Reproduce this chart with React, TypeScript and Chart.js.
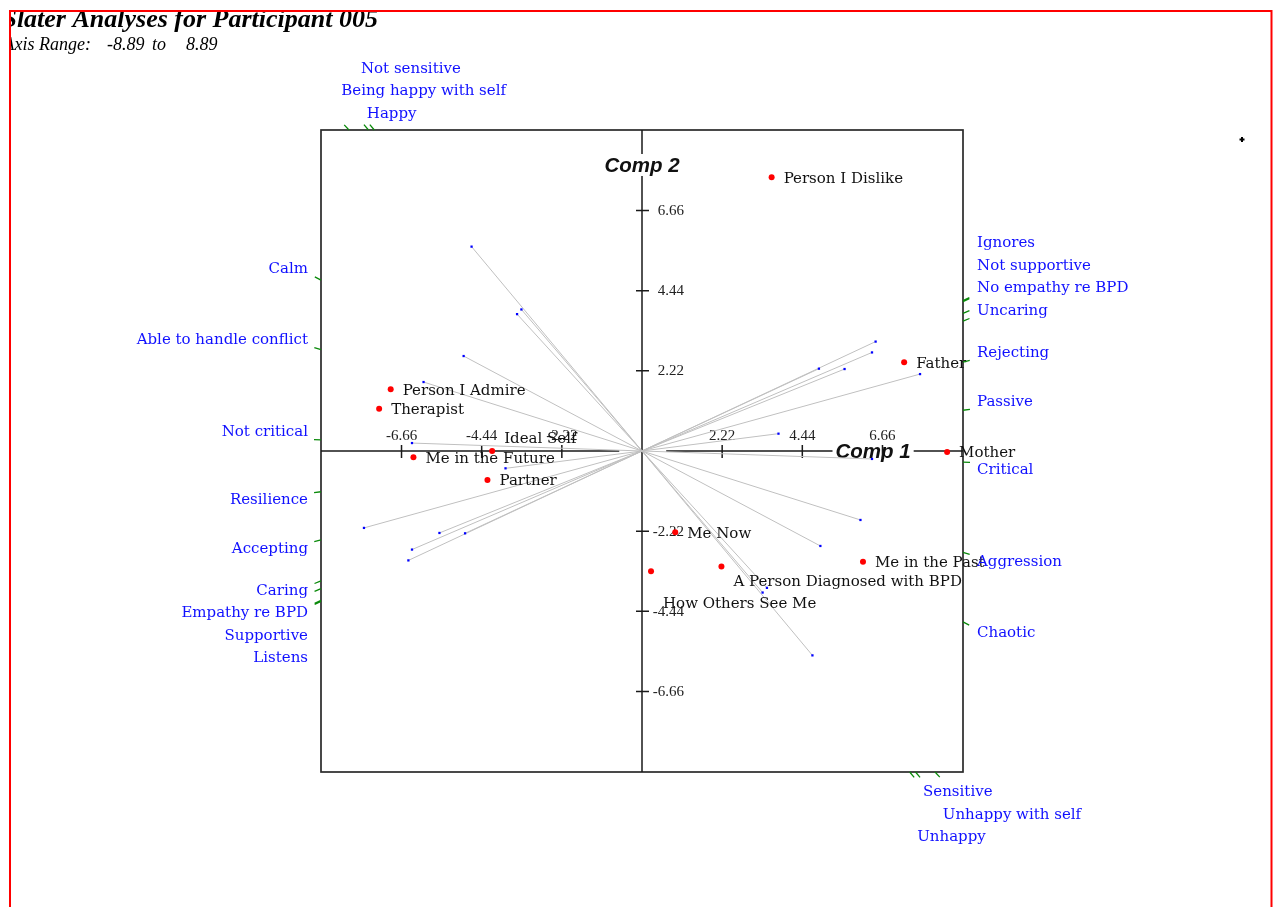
import React, { useEffect, useRef } from "react";
import { Chart, registerables } from "chart.js";

Chart.register(...registerables);

// ---------- data ----------
const axisMin = -8.89;
const axisMax = 8.89;
const tickValues = [-6.66, -4.44, -2.22, 2.22, 4.44, 6.66];
const tickLabels = ["-6.66", "-4.44", "-2.22", "2.22", "4.44", "6.66"];

const titleText = "Slater Analyses for Participant 005";
const rangeLabel = "Axis Range:";
const rangeLow = "-8.89";
const rangeHigh = "8.89";
const xAxisTitle = "Comp 1";
const yAxisTitle = "Comp 2";

// constructs: positive pole at (+x,+y), negative pole at (-x,-y)
const positivePoles = [
  "Sensitive",
  "Unhappy with self",
  "Unhappy",
  "Chaotic",
  "Aggression",
  "Critical",
  "Passive",
  "Rejecting",
  "Uncaring",
  "Not supportive",
  "No empathy re BPD",
  "Ignores",
];
const negativePoles = [
  "Not sensitive",
  "Being happy with self",
  "Happy",
  "Calm",
  "Able to handle conflict",
  "Not critical",
  "Resilience",
  "Accepting",
  "Caring",
  "Supportive",
  "Empathy re BPD",
  "Listens",
];
const loadingX = [3.34, 3.46, 4.72, 4.94, 6.05, 6.37, 3.78, 7.7, 5.61, 4.9, 6.37, 6.47];
const loadingY = [-3.92, -3.79, -5.66, -2.63, -1.91, -0.22, 0.48, 2.13, 2.27, 2.28, 2.73, 3.03];

// elements
const elementNames = [
  "Person I Dislike",
  "Father",
  "Mother",
  "Me in the Past",
  "A Person Diagnosed with BPD",
  "How Others See Me",
  "Me Now",
  "Partner",
  "Ideal Self",
  "Me in the Future",
  "Therapist",
  "Person I Admire",
];
const elementX = [3.59, 7.26, 8.45, 6.12, 2.2, 0.25, 0.92, -4.28, -4.15, -6.33, -7.28, -6.96];
const elementY = [7.58, 2.46, -0.03, -3.07, -3.2, -3.33, -2.25, -0.8, 0.0, -0.17, 1.17, 1.71];

// ---------- layout / style ----------
const SERIF = '"DejaVu Serif", serif';
const TIMES = '"Liberation Serif", "Times New Roman", serif';
const SANS = '"Liberation Sans", Arial, sans-serif';
const labelNudgeY: Record<string, number> = {
  "Ideal Self": -13,
  "A Person Diagnosed with BPD": 14,
  "How Others See Me": 31,
};
const comp1At = 6.4;
const comp2At = 7.89;

const decorPlugin = {
  id: "biplotDecor",
  beforeDatasetsDraw(chart: any) {
    const { ctx, chartArea: a, scales } = chart;
    const xs = scales.x;
    const ys = scales.y;
    const x0 = xs.getPixelForValue(0);
    const y0 = ys.getPixelForValue(0);
    ctx.save();
    // frame
    ctx.strokeStyle = "#2a2a2a";
    ctx.lineWidth = 1.7;
    ctx.strokeRect(a.left, a.top, a.right - a.left, a.bottom - a.top);

    // axis titles
    ctx.font = `bold italic 20.5px ${SANS}`;
    ctx.fillStyle = "#111";
    ctx.textBaseline = "middle";
    ctx.textAlign = "center";
    const c1x = xs.getPixelForValue(comp1At);
    const c1w = ctx.measureText(xAxisTitle).width;
    ctx.fillText(xAxisTitle, c1x, y0 + 1);
    const c2y = ys.getPixelForValue(comp2At);
    ctx.fillText(yAxisTitle, x0, c2y);

    // axes
    ctx.strokeStyle = "#1a1a1a";
    ctx.lineWidth = 1.5;
    ctx.beginPath();
    ctx.moveTo(a.left, y0);
    ctx.lineTo(xs.getPixelForValue(-0.63), y0);
    ctx.moveTo(xs.getPixelForValue(0.67), y0);
    ctx.lineTo(c1x - c1w / 2 - 3, y0);
    ctx.moveTo(c1x + c1w / 2 + 3, y0);
    ctx.lineTo(a.right, y0);
    ctx.moveTo(x0, a.top);
    ctx.lineTo(x0, c2y - 12);
    ctx.moveTo(x0, c2y + 10);
    ctx.lineTo(x0, a.bottom);
    ctx.stroke();

    // ticks
    ctx.beginPath();
    tickValues.forEach((v) => {
      const px = xs.getPixelForValue(v);
      ctx.moveTo(px, y0 - 6);
      ctx.lineTo(px, y0 + 7);
      const py = ys.getPixelForValue(v);
      ctx.moveTo(x0 - 6, py);
      ctx.lineTo(x0 + 7, py);
    });
    ctx.stroke();

    ctx.font = `15px ${TIMES}`;
    ctx.fillStyle = "#222";
    tickValues.forEach((v, i) => {
      ctx.textAlign = "center";
      ctx.textBaseline = "alphabetic";
      ctx.fillText(tickLabels[i], xs.getPixelForValue(v), y0 - 11);
      ctx.textAlign = "right";
      ctx.textBaseline = "middle";
      ctx.fillText(tickLabels[i], x0 + 42, ys.getPixelForValue(v) + 0.5);
    });
    ctx.restore();
  },
  afterDatasetsDraw(chart: any) {
    const { ctx, chartArea: a, scales } = chart;
    const xs = scales.x;
    const ys = scales.y;
    const ox = xs.getPixelForValue(0);
    const oy = ys.getPixelForValue(0);
    ctx.save();

    // element labels
    ctx.font = `15px ${SERIF}`;
    ctx.fillStyle = "#111";
    ctx.textAlign = "left";
    ctx.textBaseline = "middle";
    elementNames.forEach((n, i) => {
      const px = xs.getPixelForValue(elementX[i]);
      const py = ys.getPixelForValue(elementY[i]);
      ctx.fillText(n, px + 12, py + 1.5 + (labelNudgeY[n] || 0));
    });

    // construct pole labels on the frame
    type Pole = { label: string; ex: number; ey: number; px: number; py: number; edge: string; up: boolean };
    const poles: Pole[] = [];
    positivePoles.forEach((_, i) => {
      [1, -1].forEach((s) => {
        const dxu = s * loadingX[i];
        const dyu = s * loadingY[i];
        const dx = xs.getPixelForValue(dxu) - ox;
        const dy = ys.getPixelForValue(dyu) - oy;
        const tx = dx > 0 ? (a.right - ox) / dx : dx < 0 ? (a.left - ox) / dx : Infinity;
        const ty = dy > 0 ? (a.bottom - oy) / dy : dy < 0 ? (a.top - oy) / dy : Infinity;
        const t = Math.min(tx, ty);
        const px = ox + dx * t;
        const py = oy + dy * t;
        const len = Math.hypot(dx, dy);
        const ex = px + (dx / len) * 7;
        const ey = py + (dy / len) * 7;
        let edge: string;
        if (tx < ty) edge = dx > 0 ? "right" : "left";
        else edge = dy > 0 ? "bottom" : "top";
        poles.push({ label: s > 0 ? positivePoles[i] : negativePoles[i], ex, ey, px, py, edge, up: dy < 0 });
      });
    });

    // green ticks
    ctx.strokeStyle = "#0a8a0a";
    ctx.lineWidth = 1.3;
    ctx.beginPath();
    poles.forEach((p) => {
      ctx.moveTo(p.px, p.py);
      ctx.lineTo(p.ex, p.ey);
    });
    ctx.stroke();

    ctx.font = `15px ${SERIF}`;
    ctx.fillStyle = "#1010ff";
    ctx.textBaseline = "middle";
    const gap = 22.5;
    ["left", "right"].forEach((edge) => {
      ctx.textAlign = edge === "left" ? "right" : "left";
      const lx = edge === "left" ? a.left - 13 : a.right + 14;
      const ups = poles.filter((p) => p.edge === edge && p.up).sort((p, q) => q.ey - p.ey);
      let prev = Infinity;
      ups.forEach((p) => {
        const y = Math.min(p.ey - 8, prev - gap);
        ctx.fillText(p.label, lx, y + 0.5);
        prev = y;
      });
      const downs = poles.filter((p) => p.edge === edge && !p.up).sort((p, q) => p.ey - q.ey);
      prev = -Infinity;
      downs.forEach((p) => {
        const y = Math.max(p.ey + 7, prev + gap);
        ctx.fillText(p.label, lx, y + 0.5);
        prev = y;
      });
    });
    ctx.textAlign = "left";
    const tops = poles.filter((p) => p.edge === "top");
    tops.forEach((p, j) => {
      ctx.fillText(p.label, p.ex - 3, a.top - 16 - (tops.length - 1 - j) * gap);
    });
    const bottoms = poles.filter((p) => p.edge === "bottom");
    bottoms.forEach((p, j) => {
      ctx.fillText(p.label, p.ex + 3, a.bottom + 20.5 + j * gap);
    });

    // title block (clipped by the red frame)
    ctx.save();
    ctx.beginPath();
    ctx.rect(11, 12, 1260, 900);
    ctx.clip();
    ctx.fillStyle = "#000";
    ctx.textBaseline = "alphabetic";
    ctx.font = `bold italic 26px ${TIMES}`;
    ctx.textAlign = "right";
    ctx.fillText(titleText, 378, 27);
    ctx.font = `italic 18px ${TIMES}`;
    ctx.fillText(rangeLabel, 91, 50);
    ctx.textAlign = "left";
    ctx.fillText(rangeLow, 107, 50);
    ctx.fillText("to", 152, 50);
    ctx.fillText(rangeHigh, 186, 50);
    ctx.restore();

    // small marker top right
    ctx.fillStyle = "#000";
    ctx.fillRect(1239.5, 138.5, 5, 2);
    ctx.fillRect(1241, 137, 2, 5);

    // red page frame
    ctx.strokeStyle = "#ff0000";
    ctx.lineWidth = 2;
    ctx.beginPath();
    ctx.moveTo(10, 930);
    ctx.lineTo(10, 11);
    ctx.lineTo(1271.5, 11);
    ctx.lineTo(1271.5, 930);
    ctx.stroke();

    ctx.restore();
  },
};

export default function App() {
  const ref = useRef<HTMLCanvasElement>(null);
  useEffect(() => {
    const canvas = ref.current;
    if (!canvas) return;
    const lineSets = positivePoles.map((name, i) => ({
      type: "scatter" as const,
      label: name,
      data: [
        { x: -loadingX[i], y: -loadingY[i] },
        { x: loadingX[i], y: loadingY[i] },
      ],
      showLine: true,
      borderColor: "#c0c0c0",
      borderWidth: 1,
      pointStyle: "rect",
      pointRadius: 1.6,
      pointBackgroundColor: "#0000ff",
      pointBorderWidth: 0,
      order: 2,
    }));
    const chart = new Chart(canvas, {
      type: "scatter",
      data: {
        datasets: [
          {
            label: "elements",
            data: elementNames.map((_, i) => ({ x: elementX[i], y: elementY[i] })),
            pointRadius: 3,
            pointBackgroundColor: "#ff0000",
            pointBorderWidth: 0,
            order: 0,
          } as any,
          ...lineSets,
        ],
      },
      options: {
        animation: false,
        responsive: true,
        maintainAspectRatio: false,
        layout: { padding: { left: 321, top: 130, right: 311, bottom: 135 } },
        scales: {
          x: { type: "linear", min: axisMin, max: axisMax, display: false },
          y: { type: "linear", min: axisMin, max: axisMax, display: false },
        },
        plugins: { legend: { display: false }, tooltip: { enabled: false } },
      },
      plugins: [decorPlugin],
    });
    return () => chart.destroy();
  }, []);
  return (
    <div style={{ position: "absolute", left: 0, top: 0, width: 1274, height: 907, background: "#fff" }}>
      <canvas ref={ref} />
    </div>
  );
}
